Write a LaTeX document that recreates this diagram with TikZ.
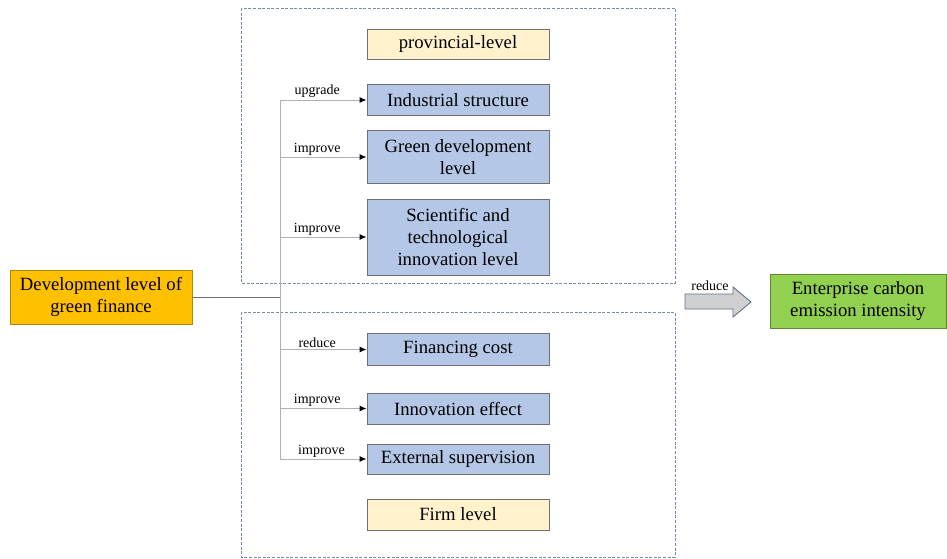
\documentclass[tikz,border=0pt]{standalone}
\usepackage{fontspec}
\setmainfont{Liberation Serif}
\usetikzlibrary{arrows.meta}
\definecolor{boxblue}{HTML}{B4C7E7}
\definecolor{boxcream}{HTML}{FFF2CC}
\definecolor{boxorange}{HTML}{FFC000}
\definecolor{boxgreen}{HTML}{92D050}
\definecolor{framegray}{HTML}{707070}
\definecolor{dashcol}{HTML}{7A8BA8}
\definecolor{trunkgray}{HTML}{B0B0B0}
\definecolor{bigarrow}{HTML}{D0D0D0}
\begin{document}
\begin{tikzpicture}[x=1pt,y=-1pt,
  base/.style={font=\fontsize{18.7}{22}\selectfont, align=center, inner sep=0pt,
    draw=framegray, line width=0.9pt},
  mech/.style={base, fill=boxblue, minimum width=182pt},
  level/.style={base, fill=boxcream, minimum width=182pt},
  dashbox/.style={draw=dashcol, line width=1pt, dash pattern=on 3pt off 1.6pt},
  trunk/.style={draw=trunkgray, line width=1pt},
  branch/.style={draw=trunkgray, line width=1pt, -{Latex[length=7pt,width=6pt,black]}},
  lab/.style={font=\fontsize{14}{16}\selectfont, inner sep=1.5pt, above}
]
\useasboundingbox (0,0) rectangle (947,558);

% provincial and firm frames
\draw[dashbox] (241,8) rectangle (675,283);
\draw[dashbox] (241,312) rectangle (675,557);

% level headers
\node[level, minimum height=30pt] (prov) at (458,44) {provincial-level};
\node[level, minimum height=31pt] (firm) at (458,514.5) {Firm level};

% mechanism boxes
\node[mech, minimum height=31pt] (ind) at (458,100) {Industrial structure};
\node[mech, minimum height=53pt] (grn) at (458,157) {Green development\\level};
\node[mech, minimum height=76pt] (sci) at (458,237) {Scientific and\\technological\\innovation level};
\node[mech, minimum height=32pt] (fin) at (458,349.5) {Financing cost};
\node[mech, minimum height=31pt] (inn) at (458,408.5) {Innovation effect};
\node[mech, minimum height=30pt] (ext) at (458,459) {External supervision};

% source and outcome
\node[base, fill=boxorange, draw=boxorange!70!black, minimum width=182pt, minimum height=54pt]
  (dev) at (101,297) {Development level of\\green finance};
\node[base, fill=boxgreen, draw=boxgreen!65!black, minimum width=176pt, minimum height=54pt]
  (ent) at (858,301) {Enterprise carbon\\emission intensity};

% distribution trunk
\coordinate (tr) at (280,297);
\draw[trunk] (ind.west -| tr) -- (ext.west -| tr);
\draw[draw=framegray, line width=1pt] (dev.east) -- (tr);

% branches
\draw[branch] (ind.west -| tr) -- (ind.west) node[lab, pos=0.43] {upgrade};
\draw[branch] (grn.west -| tr) -- (grn.west) node[lab, pos=0.43] {improve};
\draw[branch] (sci.west -| tr) -- (sci.west) node[lab, pos=0.43] {improve};
\draw[branch] (fin.west -| tr) -- (fin.west) node[lab, pos=0.43] {reduce};
\draw[branch] (inn.west -| tr) -- (inn.west) node[lab, pos=0.43] {improve};
\draw[branch] (ext.west -| tr) -- (ext.west) node[lab, pos=0.48] {improve};

% overall effect arrow
\coordinate (ba) at (685,294);
\draw[fill=bigarrow, draw=dashcol!80!black, line width=0.9pt]
  (ba) -- (733,294) -- (733,287) -- (751,302) -- (733,317) -- (733,309) -- (685,309) -- cycle;
\node[font=\fontsize{14}{16}\selectfont, inner sep=0pt, anchor=base] (red) at (710,290) {reduce};
\end{tikzpicture}
\end{document}
